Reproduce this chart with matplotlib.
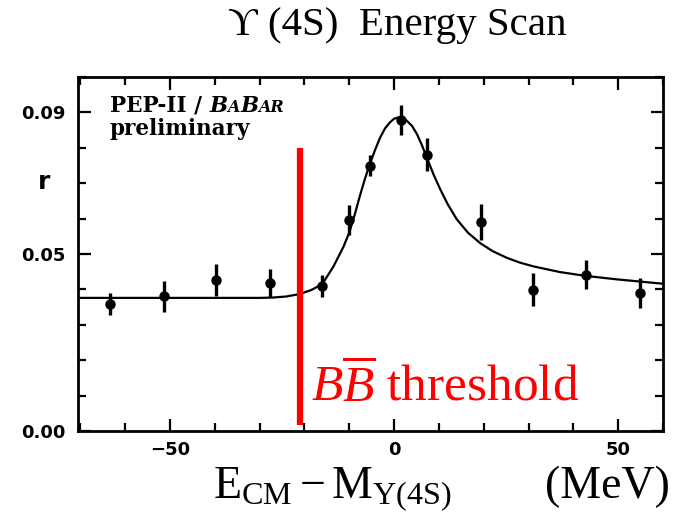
import matplotlib
matplotlib.use("Agg")
import matplotlib.pyplot as plt
from matplotlib.ticker import MultipleLocator, FixedLocator, FuncFormatter

plt.rcParams["mathtext.fontset"] = "custom"
plt.rcParams["mathtext.rm"] = "Liberation Serif"
plt.rcParams["mathtext.it"] = "Liberation Serif:italic"
plt.rcParams["mathtext.bf"] = "Liberation Serif:bold"

# Measured hadronic ratio vs. CM energy offset (MeV)
energy = [-63.4, -51.4, -39.7, -27.7, -16.0, -10.0, -5.4, 1.5, 7.3, 19.3, 31.0, 42.8, 54.8]
ratio = [0.0359, 0.0381, 0.0426, 0.0418, 0.0409, 0.0596, 0.0749, 0.0878, 0.0781,
         0.0590, 0.0399, 0.0442, 0.0389]
ratio_err = [0.0030, 0.0044, 0.0046, 0.0039, 0.0031, 0.0043, 0.0030, 0.0043, 0.0047,
             0.0050, 0.0047, 0.0042, 0.0042]

# Fitted line shape
fit_energy = [-70.5, -50.0, -35.0, -30.0, -27.0, -24.0, -21.0, -18.5, -16.0, -13.5,
              -11.3, -10.0, -8.8, -7.6, -6.5, -5.4, -4.2, -3.1, -2.0, -0.9, 0.0, 1.0,
              2.0, 2.8, 4.0, 5.1, 6.2, 7.3, 8.8, 10.3, 12.0, 14.0, 16.5, 19.3, 22.0,
              25.2, 28.0, 31.1, 37.0, 42.8, 50.0, 60.0]
fit_ratio = [0.0376, 0.0376, 0.0376, 0.0376, 0.0377, 0.0380, 0.0387, 0.0398, 0.0415,
             0.0465, 0.0520, 0.0560, 0.0610, 0.0665, 0.0712, 0.0754, 0.0795, 0.0829,
             0.0855, 0.0872, 0.0882, 0.0886, 0.0884, 0.0877, 0.0862, 0.0839, 0.0808,
             0.0773, 0.0725, 0.0683, 0.0640, 0.0598, 0.0560, 0.0530, 0.0508, 0.0489,
             0.0476, 0.0465, 0.0449, 0.0438, 0.0428, 0.0416]

threshold = -21.0
y_major = [0.00, 0.05, 0.09]
x_major = [-50, 0, 50]

fig = plt.figure(figsize=(6.83, 5.20), dpi=100)
ax = fig.add_axes([78 / 683, 89 / 520, 585 / 683, 354 / 520])

ax.plot(fit_energy, fit_ratio, color="black", lw=1.6, zorder=2)
ax.errorbar(energy, ratio, yerr=ratio_err, fmt="o", color="black", ms=6.5,
            elinewidth=2.4, capsize=0, zorder=3)

ax.vlines(threshold, 0.0017, 0.0799, color="#ff0000", lw=4.5, zorder=4)

ax.set_xlim(-70.5, 60)
ax.set_ylim(0, 0.1)

for s in ax.spines.values():
    s.set_linewidth(2.0)

ax.xaxis.set_major_locator(FixedLocator(x_major))
ax.xaxis.set_minor_locator(MultipleLocator(10))
ax.yaxis.set_major_locator(FixedLocator(y_major))
ax.yaxis.set_minor_locator(MultipleLocator(0.01))
ax.xaxis.set_major_formatter(FuncFormatter(lambda v, p: f"{v:.0f}".replace("-", "\u2212")))
ax.yaxis.set_major_formatter(FuncFormatter(lambda v, p: f"{v:.2f}"))
ax.tick_params(which="both", direction="in", top=True, right=True, width=1.6)
ax.tick_params(which="major", length=9)
ax.tick_params(which="minor", length=6)
ax.tick_params(axis="y", which="major", pad=9)
ax.tick_params(axis="x", which="major", pad=7)
for lab in ax.get_xticklabels() + ax.get_yticklabels():
    lab.set_fontfamily("DejaVu Sans")
    lab.set_fontweight("bold")
    lab.set_fontsize(13)

fig.text(44 / 683, 1 - 182 / 520, "r", fontsize=18, fontweight="bold",
         family="DejaVu Sans", ha="center", va="center")

# Title
fig.text(397 / 683, 1 - 25 / 520, "\u03d2 (4S)  Energy Scan", fontsize=29.5,
         family=["Liberation Serif", "DejaVu Serif"], ha="center", va="center")

# Axis title
fig.text(213 / 683, 1 - 498 / 520, r"$\mathrm{E_{CM}-M_{Y(4S)}}$", fontsize=33,
         ha="left", va="baseline")
fig.text(670 / 683, 1 - 498 / 520, "(MeV)", fontsize=33, family="Liberation Serif",
         ha="right", va="baseline")

# Threshold label
ax.text(threshold + 2.5, 0.0085, r"$B\overline{B}$ threshold", fontsize=37,
        color="#ff0000", family="Liberation Serif", ha="left", va="baseline")

# Experiment tag with small-caps BABAR
fig.canvas.draw()
renderer = fig.canvas.get_renderer()
pieces = [("PEP-II / ", 15.5, "normal"), ("B", 15.5, "italic"), ("A", 11.5, "italic"),
          ("B", 15.5, "italic"), ("AR", 11.5, "italic")]
x0 = 110 / 683
y0 = 1 - 112 / 520
for txt, size, style in pieces:
    t = fig.text(x0, y0, txt, fontsize=size, style=style, fontweight="bold",
                 family="DejaVu Serif", ha="left", va="baseline")
    bb = t.get_window_extent(renderer)
    x0 += bb.width / fig.bbox.width
fig.text(110 / 683, 1 - 135 / 520, "preliminary", fontsize=15.5, fontweight="bold",
         family="DejaVu Serif", ha="left", va="baseline")

fig.savefig("out.png", dpi=100)
